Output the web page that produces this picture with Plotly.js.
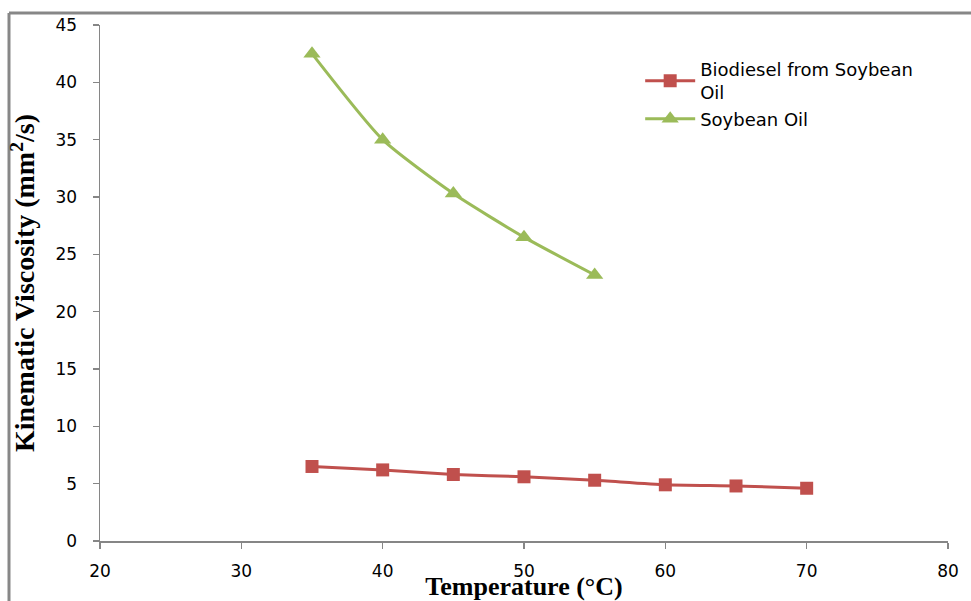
<!DOCTYPE html>
<html>
<head>
<meta charset="utf-8">
<script src="https://cdn.plot.ly/plotly-3.0.1.min.js"></script>
<style>html,body{margin:0;padding:0;background:#fff;} #chart{width:971px;height:601px;}</style>
</head>
<body>
<div id="chart"></div>
<script>
const temperature = [35, 40, 45, 50, 55, 60, 65, 70];
const biodieselViscosity = [6.5, 6.2, 5.8, 5.6, 5.3, 4.9, 4.8, 4.6];
const soybeanTemperature = [35, 40, 45, 50, 55];
const soybeanViscosity = [42.5, 35.0, 30.3, 26.5, 23.2];
const xTicks = [20, 30, 40, 50, 60, 70, 80];
const yTicks = [0, 5, 10, 15, 20, 25, 30, 35, 40, 45];

const traces = [
  {
    x: temperature, y: biodieselViscosity, type: 'scatter', mode: 'lines+markers',
    name: 'Biodiesel from Soybean<br>Oil',
    line: {color: '#C0504D', width: 3, shape: 'spline', smoothing: 0.5},
    marker: {symbol: 'square', size: 13, color: '#C0504D'}
  },
  {
    x: soybeanTemperature, y: soybeanViscosity, type: 'scatter', mode: 'lines+markers',
    name: 'Soybean Oil',
    line: {color: '#9BBB59', width: 3, shape: 'spline', smoothing: 0.6},
    marker: {symbol: 'triangle-up', size: 15, color: '#9BBB59'}
  }
];

const tickFont = {family: 'DejaVu Sans, Verdana, sans-serif', size: 17, color: '#000'};

const layout = {
  width: 971, height: 601,
  margin: {l: 100, r: 23, t: 25, b: 60},
  paper_bgcolor: '#fff', plot_bgcolor: '#fff',
  showlegend: true,
  legend: {
    x: 0.637, y: 0.95, xanchor: 'left', yanchor: 'top',
    font: {family: 'DejaVu Sans, Verdana, sans-serif', size: 18, color: '#000'},
    bgcolor: 'rgba(0,0,0,0)', itemwidth: 50
  },
  xaxis: {
    showgrid: false, zeroline: false, showline: true,
    linecolor: '#868686', linewidth: 1.5,
    ticks: 'outside', ticklen: 6, tickcolor: '#868686', tickwidth: 1.5,
    tickfont: tickFont,
    range: [20, 80], tickvals: xTicks, ticktext: xTicks.map(String),
    ticklabelstandoff: 8,
    title: {text: 'Temperature (°C)', standoff: 6,
      font: {family: 'Liberation Serif, Times New Roman, serif', size: 26, color: '#000', weight: 'bold'}}
  },
  yaxis: {
    showgrid: false, zeroline: false, showline: true,
    linecolor: '#868686', linewidth: 1.5,
    ticks: 'outside', ticklen: 6, tickcolor: '#868686', tickwidth: 1.5,
    tickfont: tickFont,
    range: [0, 45], tickvals: yTicks, ticktext: yTicks.map(String),
    ticklabelstandoff: 12,
    title: {text: 'Kinematic Viscosity (mm<sup>2</sup>/s)', standoff: 12,
      font: {family: 'Liberation Serif, Times New Roman, serif', size: 28, color: '#000', weight: 'bold'}}
  },
  shapes: [
    {type: 'line', xref: 'paper', yref: 'paper', x0: (9 - 100) / 848, x1: (975 - 100) / 848,
     y0: (541 - 13) / 516, y1: (541 - 13) / 516, line: {color: '#878787', width: 3}},
    {type: 'line', xref: 'paper', yref: 'paper', x0: (9 - 100) / 848, x1: (9 - 100) / 848,
     y0: (541 - 13) / 516, y1: (541 - 605) / 516, line: {color: '#878787', width: 3}}
  ]
};

Plotly.newPlot('chart', traces, layout, {displayModeBar: false, staticPlot: true});
</script>
</body>
</html>
